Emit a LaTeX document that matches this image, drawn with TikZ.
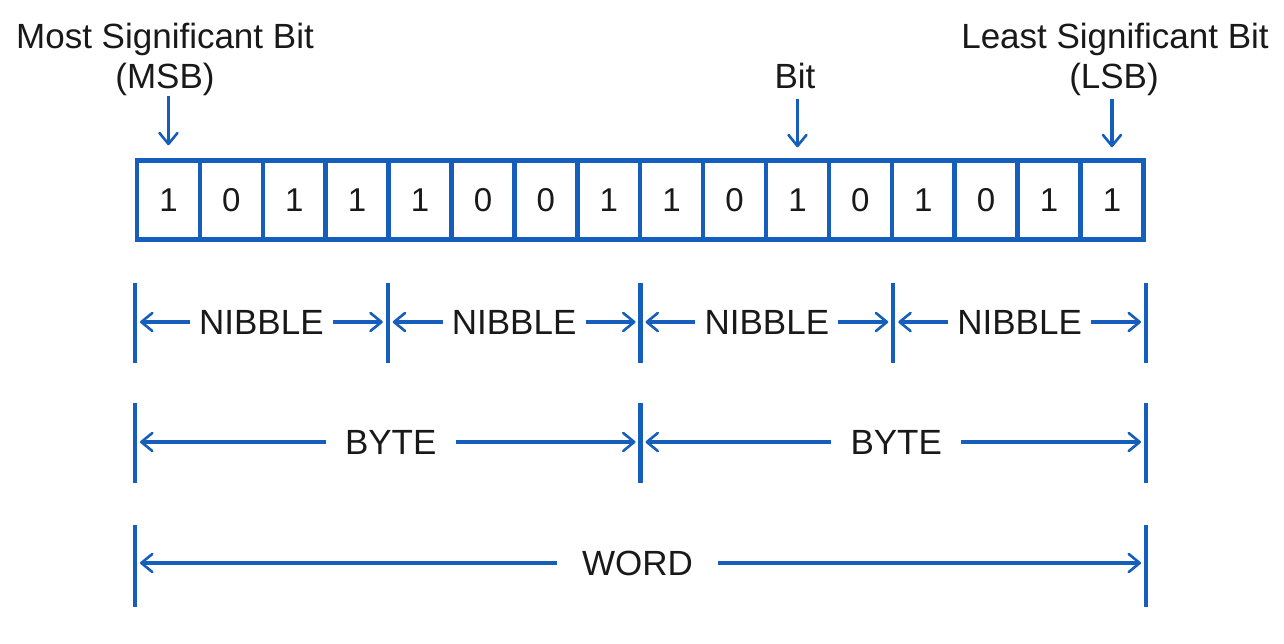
\documentclass[tikz,border=0pt]{standalone}
\usepackage{fontspec}
\setmainfont{Liberation Sans}
\usetikzlibrary{arrows.meta,calc}
\definecolor{bblue}{RGB}{22,94,188}
\definecolor{ink}{RGB}{25,25,25}
\begin{document}
\begin{tikzpicture}[x=1pt,y=-1pt,
  cell/.style={draw=bblue,line width=4.5pt,minimum width=62.9pt,minimum height=79pt,inner sep=0pt,
    font=\fontsize{33}{38}\selectfont,text=ink},
  lbl/.style={font=\fontsize{35}{40}\selectfont,text=ink,inner sep=0pt},
  tip/.style={-{Straight Barb[length=11pt,width=18pt,line width=2.6pt,round]}},
  arr/.style={draw=bblue,line width=3.6pt,tip,shorten >=5pt},
  dnarr/.style={draw=bblue,line width=3.6pt,tip},
  tick/.style={draw=bblue,line width=4.2pt}]
\useasboundingbox (0,0) rectangle (1284,643);
\fill[white] (0,0) rectangle (1284,643);
% bit cells
\foreach \b [count=\i from 0] in {1,0,1,1,1,0,0,1,1,0,1,0,1,0,1,1}{
  \node[cell] (c\i) at ({137+62.9*(\i+0.5)},200) {\b};
}
% top labels
\node[lbl,anchor=base] (msb1) at (165,48) {Most Significant Bit};
\node[lbl,anchor=base] (msb2) at (165,88) {(MSB)};
\node[lbl,anchor=base] (bit) at (795,88) {Bit};
\node[lbl,anchor=base] (lsb1) at (1115,48) {Least Significant Bit};
\node[lbl,anchor=base] (lsb2) at (1114,88) {(LSB)};
\draw[dnarr] ([yshift=62pt]c0.north) -- ([yshift=13pt]c0.north);
\draw[dnarr] ([yshift=59pt]c10.north) -- ([yshift=11pt]c10.north);
\draw[dnarr] ([yshift=59pt]c15.north) -- ([yshift=11pt]c15.north);
% nibble row
\foreach \k in {0,...,4}{
  \coordinate (n\k) at ({135+252.75*\k},322);
  \draw[tick] ([yshift=39pt]n\k) -- ([yshift=-41pt]n\k);
}
\foreach \k [evaluate=\k as \kk using int(\k+1)] in {0,...,3}{
  \node[lbl,inner xsep=9pt] (nl\k) at ($(n\k)!0.5!(n\kk)$) {NIBBLE};
  \draw[arr] (nl\k.west) -- (n\k);
  \draw[arr] (nl\k.east) -- (n\kk);
}
% byte row
\foreach \k in {0,1,2}{
  \coordinate (b\k) at ({135+505.5*\k},442);
  \draw[tick] ([yshift=39pt]b\k) -- ([yshift=-41pt]b\k);
}
\node[lbl,inner xsep=19pt] (bl0) at ($(b0)!0.5!(b1)+(3,0)$) {BYTE};
\node[lbl,inner xsep=19pt] (bl1) at ($(b1)!0.5!(b2)+(3,0)$) {BYTE};
\draw[arr] (bl0.west) -- (b0);
\draw[arr] (bl0.east) -- (b1);
\draw[arr] (bl1.west) -- (b1);
\draw[arr] (bl1.east) -- (b2);
% word row
\coordinate (w0) at (135,563);
\coordinate (w1) at (1146,563);
\draw[tick] ([yshift=38pt]w0) -- ([yshift=-44pt]w0);
\draw[tick] ([yshift=38pt]w1) -- ([yshift=-44pt]w1);
\node[lbl,inner xsep=25pt] (wl) at ($(w0)!0.5!(w1)+(-3,0)$) {WORD};
\draw[arr] (wl.west) -- (w0);
\draw[arr] (wl.east) -- (w1);
\end{tikzpicture}
\end{document}
